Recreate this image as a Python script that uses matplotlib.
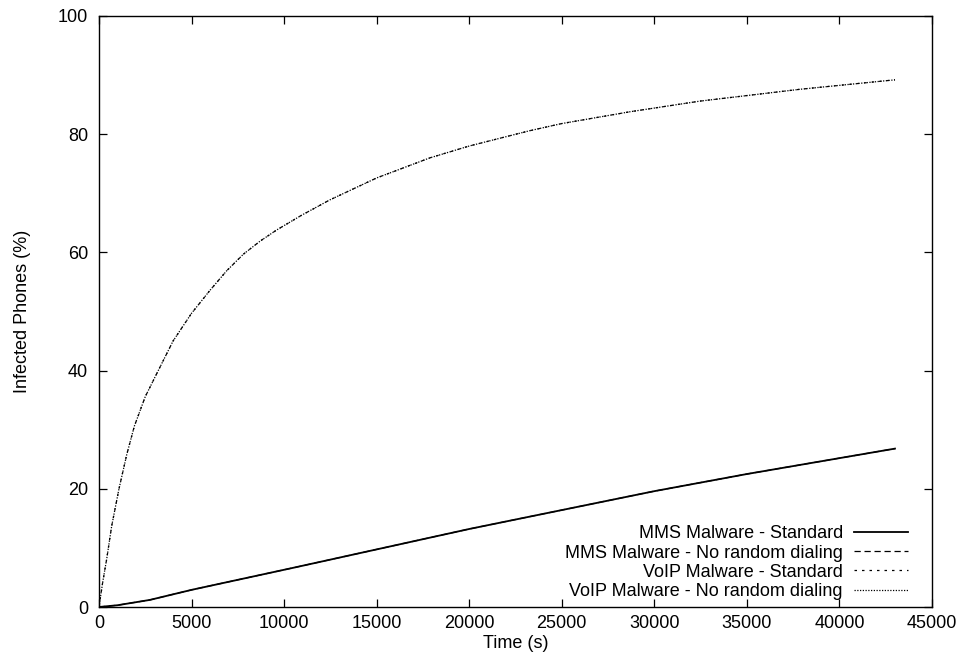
import matplotlib
matplotlib.use("Agg")
import matplotlib.pyplot as plt

plt.rcParams['font.family'] = ['Liberation Sans', 'DejaVu Sans']

# values
mms_time = [0, 1000, 2750, 5000, 10590, 20000, 25000, 30000, 35000, 43000]
mms_std = [0, 0.3, 1.2, 2.9, 6.7, 13.2, 16.4, 19.6, 22.5, 26.8]
mms_norand = [0, 0.3, 1.2, 2.9, 6.7, 13.2, 16.4, 19.6, 22.5, 26.8]

voip_time = [0, 200, 415, 685, 1080, 1500, 1910, 2500, 3200, 4000, 5000, 6000,
             6900, 7800, 8700, 9600, 10950, 12480, 15000, 17880, 20000, 23280,
             25000, 28690, 32470, 37870, 43000]
voip_std = [0, 4.2, 8.1, 13.7, 20.0, 25.8, 30.6, 35.6, 40.0, 45.0, 49.7, 53.6,
            56.9, 59.7, 61.9, 63.8, 66.3, 68.9, 72.6, 76.0, 78.0, 80.6,
            81.8, 83.8, 85.6, 87.6, 89.2]
voip_norand = list(voip_std)

labels = ["MMS Malware - Standard", "MMS Malware - No random dialing",
          "VoIP Malware - Standard", "VoIP Malware - No random dialing"]

fig = plt.figure(figsize=(9.62, 6.64), dpi=100)
ax = fig.add_axes([99/962, 1-607/664, (932-99)/962, (607-16)/664])

ax.plot(mms_time, mms_std, color='black', lw=1.3, label=labels[0])
ax.plot(mms_time, mms_norand, color='black', lw=0.9, dashes=(5, 3), label=labels[1])
ax.plot(voip_time, voip_std, color='black', lw=0.9, dashes=(2, 4), label=labels[2])
ax.plot(voip_time, voip_norand, color='black', lw=0.9, dashes=(1, 1.2), label=labels[3])

ax.set_xlim(0, 45000)
ax.set_ylim(0, 100)
ax.set_xticks(range(0, 45001, 5000))
ax.set_yticks(range(0, 101, 20))
ax.tick_params(direction='in', length=6, width=0.9, top=True, right=True, labelsize=13)
ax.tick_params(axis='x', pad=6)
ax.tick_params(axis='y', pad=8)
for s in ax.spines.values():
    s.set_linewidth(1.0)

ax.set_xlabel("Time (s)", fontsize=13, labelpad=2)
ax.set_ylabel("Infected Phones (%)", fontsize=13, labelpad=19)

ax.legend(loc='lower right', bbox_to_anchor=(0.971, 0.012), frameon=False,
          markerfirst=False, alignment='right', fontsize=13, handlelength=3.0,
          handletextpad=0.6, labelspacing=0.12, borderpad=0, borderaxespad=0)

fig.savefig("out.png", dpi=100)
